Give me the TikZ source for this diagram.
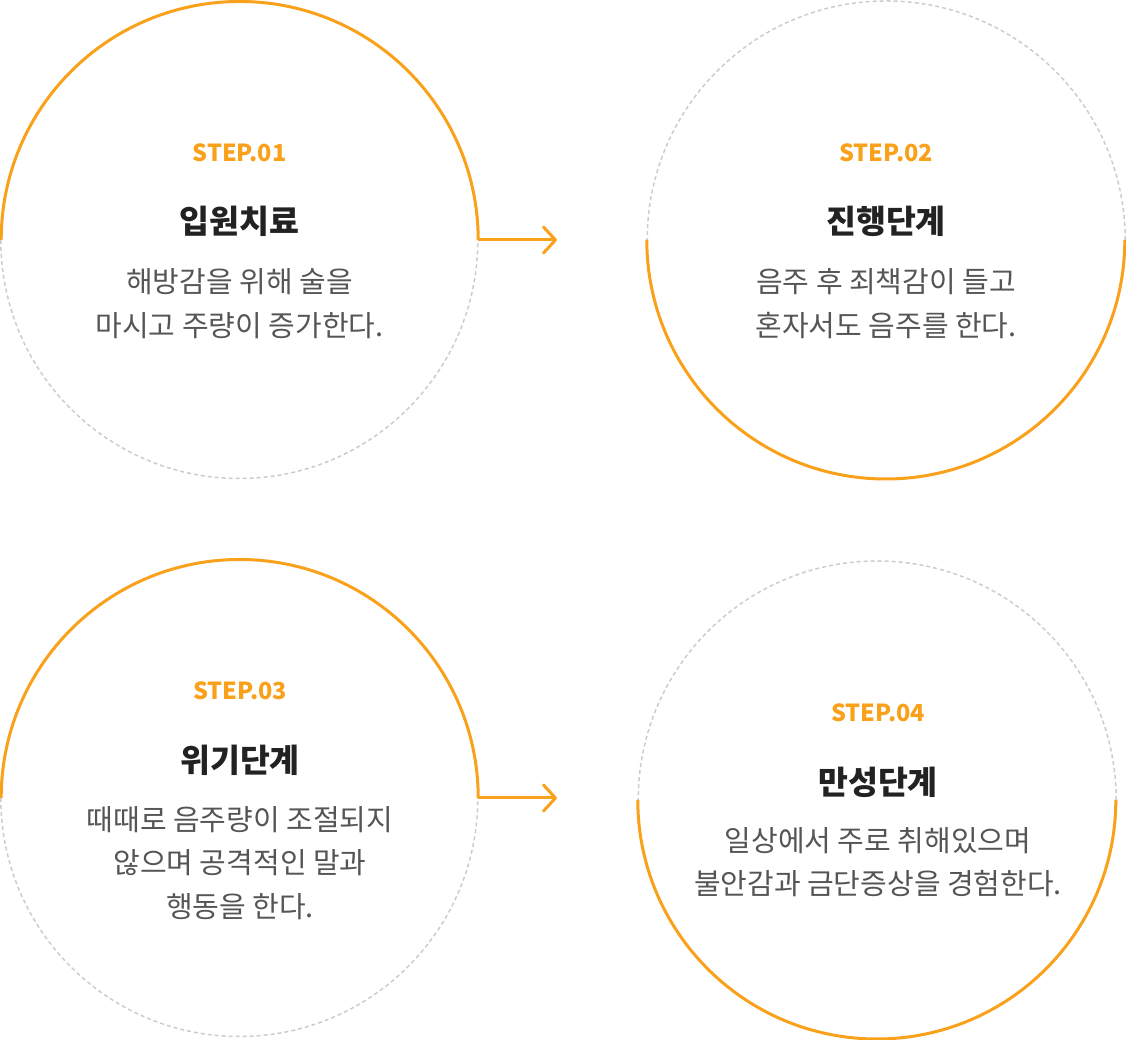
\documentclass[tikz,border=0pt]{standalone}
\usepackage{fontspec}
\newfontfamily\kr{Noto Sans CJK KR}
\usetikzlibrary{arrows.meta}
\definecolor{org}{HTML}{F9A11B}
\definecolor{ttl}{HTML}{222222}
\definecolor{bdy}{HTML}{555555}
\definecolor{dsh}{HTML}{CCCCCC}
\tikzset{
  ring/.style={circle, draw=none, minimum size=#1, inner sep=0pt},
  halfsolid/.style={draw=org, line width=3pt},
  halfdash/.style={draw=dsh, line width=1.5pt, dash pattern=on 4pt off 3pt},
  steplabel/.style={font=\kr\bfseries\fontsize{23.5}{28}\selectfont, text=org, inner sep=0pt},
  titlelabel/.style={font=\kr\bfseries\fontsize{32.5}{38}\selectfont, text=ttl, inner sep=0pt},
  bodylabel/.style={font=\kr\fontsize{29}{43.5}\selectfont, text=bdy, align=center, inner sep=0pt},
  flow/.style={draw=org, line width=3pt, -{Straight Barb[length=12pt,width=26pt,round,line width=3pt]}},
}
\begin{document}
\begin{tikzpicture}[x=1pt,y=1pt]
\useasboundingbox (0,0) rectangle (1126,1040);
% circles
\node[ring=477pt] (c1) at (239.5,800) {};
\node[ring=478pt] (c2) at (886,800) {};
\node[ring=477pt] (c3) at (239.5,242) {};
\node[ring=478pt] (c4) at (877,240) {};
% circle 1: top solid, bottom dashed
\draw[halfsolid] (c1.east) arc[start angle=0,end angle=180,radius=238.5pt];
\draw[halfdash] (c1.west) arc[start angle=180,end angle=360,radius=238.5pt];
% circle 2: top dashed, bottom solid
\draw[halfdash] (c2.east) arc[start angle=0,end angle=180,radius=239pt];
\draw[halfsolid] (c2.west) arc[start angle=180,end angle=360,radius=239pt];
% circle 3: top solid, bottom dashed
\draw[halfsolid] (c3.east) arc[start angle=0,end angle=180,radius=238.5pt];
\draw[halfdash] (c3.west) arc[start angle=180,end angle=360,radius=238.5pt];
% circle 4: top dashed, bottom solid
\draw[halfdash] (c4.east) arc[start angle=0,end angle=180,radius=239pt];
\draw[halfsolid] (c4.west) arc[start angle=180,end angle=360,radius=239pt];
% arrows
\coordinate (a1) at (557,800);
\coordinate (a2) at (557,242);
\draw[flow] (c1.east) -- (a1);
\draw[flow] (c3.east) -- (a2);
% texts step 1
\node[steplabel] (s1) at (239.5,887) {STEP.01};
\node[titlelabel] (t1) at (239.5,819) {입원치료};
\node[bodylabel] (b1) at (239.5,736.5) {해방감을 위해 술을\\마시고 주량이 증가한다.};
% step 2
\node[steplabel] (s2) at (886,887) {STEP.02};
\node[titlelabel] (t2) at (886,819) {진행단계};
\node[bodylabel] (b2) at (886,736.5) {음주 후 죄책감이 들고\\혼자서도 음주를 한다.};
% step 3
\node[steplabel] (s3) at (240,349) {STEP.03};
\node[titlelabel] (t3) at (240,280) {위기단계};
\node[bodylabel] (b3) at (240,177) {때때로 음주량이 조절되지\\않으며 공격적인 말과\\행동을 한다.};
% step 4
\node[steplabel] (s4) at (878,327) {STEP.04};
\node[titlelabel] (t4) at (878,258) {만성단계};
\node[bodylabel] (b4) at (878,178) {일상에서 주로 취해있으며\\불안감과 금단증상을 경험한다.};
\end{tikzpicture}
\end{document}
